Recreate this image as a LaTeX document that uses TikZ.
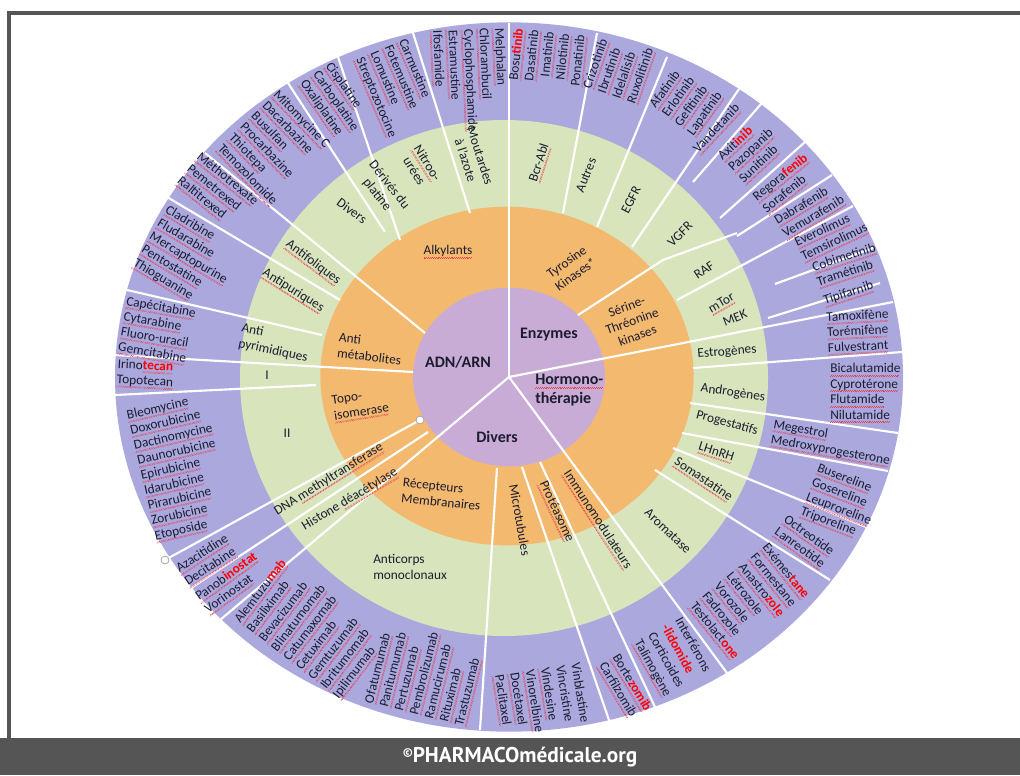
\documentclass[tikz,border=0pt]{standalone}
\usepackage{fontspec}
\setmainfont{Carlito}
\newfontfamily\bannerfont{PT Sans}
\usepackage{xcolor}
\usepackage{tikz}

\definecolor{ringout}{HTML}{ABA8DE}
\definecolor{ringmid}{HTML}{D8E4BC}
\definecolor{ringorg}{HTML}{F3B96F}
\definecolor{ringin}{HTML}{C9ACD6}
\definecolor{framegray}{HTML}{555555}
\definecolor{wavered}{HTML}{E8404F}
\definecolor{inkblue}{HTML}{1C1C30}

% red spell-check underline
\newsavebox{\sqbox}
\newcommand{\sq}[1]{\sbox{\sqbox}{#1}\leavevmode\rlap{\color{wavered}\hbox to \wd\sqbox{\leaders\hbox{\rule[-0.55ex]{0.7pt}{0.45pt}\rule[-0.4ex]{0.7pt}{0.45pt}}\hfill}}\usebox{\sqbox}}
\newcommand{\rd}[1]{{\color{red}\bfseries #1}}

\begin{document}
\begin{tikzpicture}[x=0.75pt, y=-0.75pt,
    spoke/.style={white, line width=1.6pt},
    drug/.style={font=\fontsize{10}{11.6}\selectfont, text=inkblue, inner sep=0pt, align=left},
    cat/.style={font=\fontsize{10}{11.6}\selectfont, text=inkblue, inner sep=0pt, align=center},
    core/.style={font=\fontsize{12}{14}\selectfont\bfseries, text=inkblue, inner sep=0pt, align=left},
    handle/.style={circle, draw=gray!70, fill=white, line width=0.6pt, minimum size=6pt, inner sep=0pt}
]
\useasboundingbox (0,0) rectangle (1020,775);

% frame and banner
\fill[framegray] (0,738) rectangle (1020,775);
\draw[framegray, line width=3pt] (9,738) -- (9,13) -- (1020,13);
\node[font=\bannerfont\bfseries\fontsize{16}{18}\selectfont, text=white] (banner) at (520,757)
    {\raisebox{.55ex}{\fontsize{9}{9}\selectfont\textcopyright}PHARMACOmédicale.org};

% rings
\fill[ringout] (509,377) ellipse (295.5pt and 266pt);
\fill[ringmid] (504,378) ellipse (198pt and 193.5pt);
\fill[ringorg] (507,376) ellipse (140pt and 127pt);
\fill[ringin] (509,377) ellipse (72pt and 67pt);

% spokes
\draw[spoke] (509,377) -- (509,23);
\draw[spoke] (509,377) -- (893,302);
\draw[spoke] (509,377) -- (727,673);
\draw[spoke] (509,377) -- (220,620);
\draw[spoke] (470,213) -- (413,33);
\draw[spoke] (400,240) -- (338,57);
\draw[spoke] (385,232) -- (288,83);
\draw[spoke] (425,333) -- (205,153);
\draw[spoke] (340,300) -- (167,197);
\draw[spoke] (322,335) -- (127,290);
\draw[spoke] (413,372) -- (115,355);
\draw[spoke] (316,385) -- (115,395);
\draw[spoke] (420,420) -- (165,560);
\draw[spoke] (428,432) -- (188,590);
\draw[spoke] (497,468) -- (480,730);
\draw[spoke] (522,467) -- (610,723);
\draw[spoke] (540,462) -- (655,707);
\draw[spoke] (655,470) -- (830,580);
\draw[spoke] (673,448) -- (866,527);
\draw[spoke] (682,433) -- (888,471);
\draw[spoke] (690,403) -- (898,433);
\draw[spoke] (693,368) -- (902,352);
\draw[spoke] (768,318) -- (880,283);
\draw[spoke] (775,284) -- (873,248);
\draw[spoke] (677,300) -- (853,206);
\draw[spoke] (578,315) -- (663,260) -- (737,233);
\draw[spoke] (737,236) -- (832,175);
\draw[spoke] (720,218) -- (805,142);
\draw[spoke] (693,182) -- (761,104);
\draw[spoke] (632,247) -- (739,89);
\draw[spoke] (597,227) -- (667,57);
\draw[spoke] (563,213) -- (597,33);

\node[handle] (h1) at (420,420) {};
\node[handle] (h2) at (165,560) {};

% centre
\node[core] (adn) at (458,362) {ADN/ARN};
\node[core] (enzymes) at (549,335) {Enzymes};
\node[core, anchor=west] (hormono) at (535,390) {\sq{Hormono-}\\thérapie};
\node[core] (divers) at (497,437) {Divers};

% orange ring
\node[cat] (alkylants) at (448,252) {\sq{Alkylants}};
\node[cat, align=left, anchor=west, rotate=-7] (antimet) at (338,345) {Anti\\métabolites};
\node[cat, align=left, anchor=west, rotate=9] (topo) at (333,410) {Topo-\\\sq{isomerase}};
\node[cat, align=left, anchor=west, rotate=-6] (recepteurs) at (402,490) {Récepteurs\\Membranaires};
\node[cat, rotate=-80] (microtub) at (520,520) {Microtubules};
\node[cat, rotate=-65] (proteasome) at (556,512) {\sq{Protéasome}};
\node[cat, rotate=-57] (immuno) at (597,520) {\sq{Immunomodulateurs}};
\node[cat, rotate=36] (tyrosine) at (571,268) {Tyrosine\\Kinases*};
\node[cat, rotate=20] (serine) at (632,321) {Sérine-\\Thréonine\\kinases};

% green ring
\node[cat, rotate=-72] (moutardes) at (473,158) {Moutardes\\à l'azote};
\node[cat, rotate=-58] (nitroso) at (421,167) {\sq{Nitroo-}\\urées};
\node[cat, rotate=-52] (derives) at (383,190) {Dérivés du\\platine};
\node[cat, rotate=-36] (diversalk) at (352,211) {Divers};
\node[cat, rotate=-37] (antifol) at (313,263) {\sq{Antifoliques}};
\node[cat, rotate=-32] (antipur) at (293,291) {\sq{Antipuriques}};
\node[cat, align=left, anchor=west, rotate=-12] (antipyr) at (240,336) {Anti\\pyrimidiques};
\node[cat] (topoI) at (267,375) {I};
\node[cat] (topoII) at (287,433) {II};
\node[cat, rotate=32] (dnamt) at (329,480) {DNA \sq{methyltransferase}};
\node[cat, rotate=31] (histone) at (350,500) {Histone \sq{déacétylase}};
\node[cat, align=left, anchor=west] (anticorps) at (373,567) {Anticorps\\monoclonaux};
\node[cat, rotate=-44] (aromatase) at (668,531) {Aromatase};
\node[cat, rotate=-34] (somast) at (703,480) {\sq{Somastatine}};
\node[cat, rotate=-18] (lhrh) at (716,453) {\sq{LHnRH}};
\node[cat, rotate=-15] (progest) at (727,423) {Progestatifs};
\node[cat, rotate=-8] (androg) at (733,393) {Androgènes};
\node[cat, rotate=5] (estrog) at (727,352) {Estrogènes};
\node[cat, rotate=22] (mek) at (735,318) {MEK};
\node[cat, rotate=30] (mtor) at (722,304) {\sq{mTor}};
\node[cat, rotate=34] (raf) at (704,270) {RAF};
\node[cat, rotate=45] (vgfr) at (680,234) {VGFR};
\node[cat, rotate=63] (egfr) at (631,200) {EGFR};
\node[cat, rotate=68] (autres) at (586,175) {Autres};
\node[cat, rotate=72] (bcrabl) at (540,163) {\sq{Bcr-Abl}};

% outer ring: drugs
\node[drug, anchor=west, rotate=-87.5] (moutardesD) at (467,29) {\sq{Melphalan}\\\sq{Chlorambucil}\\\sq{Cyclophosphamide}\\\sq{Estramustine}\\\sq{Ifosfamide}};
\node[drug, anchor=west, rotate=-67] (nitrosoD) at (380,49) {\sq{Carmustine}\\\sq{Fotemustine}\\\sq{Lomustine}\\\sq{Streptozotocine}};
\node[drug, anchor=west, rotate=-55] (platineD) at (315,73) {\sq{Cisplatine}\\\sq{Carboplatine}\\\sq{Oxaliplatine}};
\node[drug, anchor=west, rotate=-46] (diversD) at (247,120) {\sq{Mitomycine C}\\\sq{Dacarbazine}\\\sq{Busulfan}\\\sq{Procarbazine}\\\sq{Thiotepa}\\\sq{Temozolomide}};
\node[drug, anchor=west, rotate=-39] (antifolD) at (188,168) {\sq{Méthotrexate}\\\sq{Pemetrexed}\\\sq{Raltitrexed}};
\node[drug, anchor=west, rotate=-31] (antipurD) at (150,236) {\sq{Cladribine}\\\sq{Fludarabine}\\\sq{Mercaptopurine}\\\sq{Pentostatine}\\\sq{Thioguanine}};
\node[drug, anchor=west, rotate=-10] (antipyrD) at (122,325) {\sq{Capécitabine}\\\sq{Cytarabine}\\\sq{Fluoro-uracil}\\\sq{Gemcitabine}};
\node[drug, anchor=west, rotate=-3] (topoID) at (117,373) {Irino\sq{\rd{tecan}}\\\sq{Topotecan}};
\node[drug, anchor=west, rotate=13] (topoIID) at (141,477) {\sq{Bleomycine}\\\sq{Doxorubicine}\\\sq{Dactinomycine}\\\sq{Daunorubicine}\\\sq{Epirubicine}\\\sq{Idarubicine}\\\sq{Pirarubicine}\\\sq{Zorubicine}\\\sq{Etoposide}};
\node[drug, anchor=west, rotate=33] (dnamtD) at (182,577) {\sq{Azacitidine}\\\sq{Decitabine}};
\node[drug, anchor=west, rotate=36] (histoneD) at (202,605) {\sq{Panob\rd{inostat}}\\\sq{Vorinostat}};
\node[drug, anchor=west, rotate=52.5] (anticorpsD) at (287,660) {\sq{Alemtuzu\rd{mab}}\\\sq{Basiliximab}\\\sq{Bevacizumab}\\\sq{Blinatumomab}\\\sq{Catumaxomab}\\\sq{Cetuximab}\\\sq{Gemtuzumab}\\\sq{Ibritumomab}\\\sq{Ipilimumab}};
\node[drug, anchor=west, rotate=76] (anticorpsE) at (415,715) {\sq{Ofatumumab}\\\sq{Panitumumab}\\\sq{Pertuzumab}\\\sq{Pembrolizumab}\\\sq{Ramucirumab}\\\sq{Rituximab}\\\sq{Trastuzumab}};
\node[drug, anchor=west, rotate=-81] (microtubD) at (536,669) {Vinblastine\\Vincristine\\\sq{Vindesine}\\\sq{Vinorelbine}\\\sq{Docétaxel}\\\sq{Paclitaxel}};
\node[drug, anchor=west, rotate=-59] (proteasomeD) at (608,660) {\sq{Borte\rd{zomib}}\\\sq{Carfilzomib}};
\node[drug, anchor=west, rotate=-61] (immunoD) at (657,630) {Interférons\\\rd{-lidomide}\\Corticoides\\\sq{Talimogène}};
\node[drug, anchor=west, rotate=-51] (aromataseD) at (728,575) {\sq{Exémes\rd{tane}}\\\sq{Formestane}\\\sq{Anastro\rd{zole}}\\\sq{Létrozole}\\\sq{Vorozole}\\\sq{Fadrozole}\\\sq{Testolact\rd{one}}};
\node[drug, anchor=west, rotate=-36] (somastD) at (780,525) {\sq{Octreotide}\\\sq{Lanreotide}};
\node[drug, anchor=west, rotate=-21] (lhrhD) at (809,490) {\sq{Busereline}\\\sq{Gosereline}\\\sq{Leuproreline}\\\sq{Triporeline}};
\node[drug, anchor=west, rotate=-10] (progestD) at (772,433) {\sq{Megestrol}\\\sq{Medroxyprogesterone}};
\node[drug, anchor=west] (androgD) at (830,393) {\sq{Bicalutamide}\\\sq{Cyprotérone}\\\sq{Flutamide}\\\sq{Nilutamide}};
\node[drug, anchor=west, rotate=3] (estrogD) at (827,334) {\sq{Tamoxifène}\\\sq{Torémifène}\\\sq{Fulvestrant}};
\node[drug, anchor=west, rotate=18] (tipiD) at (824,302) {\sq{Tipifarnib}};
\node[drug, anchor=west, rotate=18] (mekD) at (815,276) {\sq{Cobimetinib}\\\sq{Tramétinib}};
\node[drug, anchor=west, rotate=25] (mtorD) at (799,251) {\sq{Everolimus}\\\sq{Temsirolimus}};
\node[drug, anchor=west, rotate=31] (rafD) at (780,229) {\sq{Dabrafenib}\\\sq{Vemurafenib}};
\node[drug, anchor=west, rotate=39] (regoD) at (760,205) {\sq{Regora\rd{fenib}}\\\sq{Sorafenib}};
\node[drug, anchor=west, rotate=43] (axiD) at (731,170) {\sq{Axit\rd{inib}}\\\sq{Pazopanib}\\\sq{Sunitinib}};
\node[drug, anchor=west, rotate=47] (vandeD) at (696,152) {\sq{Vandetanib}};
\node[drug, anchor=west, rotate=54] (egfrD) at (672,121) {\sq{Afatinib}\\\sq{Erlotinib}\\\sq{Gefitinib}\\\sq{Lapatinib}};
\node[drug, anchor=west, rotate=71] (autresD) at (610,96) {\sq{Crizotinib}\\\sq{Ibrutinib}\\\sq{Idelalisib}\\\sq{Ruxolitinib}};
\node[drug, align=right, anchor=east, rotate=84] (bcrablD) at (551,32) {\sq{Bosu\rd{tinib}}\\\sq{Dasatinib}\\\sq{Imatinib}\\\sq{Nilotinib}\\\sq{Ponatinib}};

\end{tikzpicture}
\end{document}
